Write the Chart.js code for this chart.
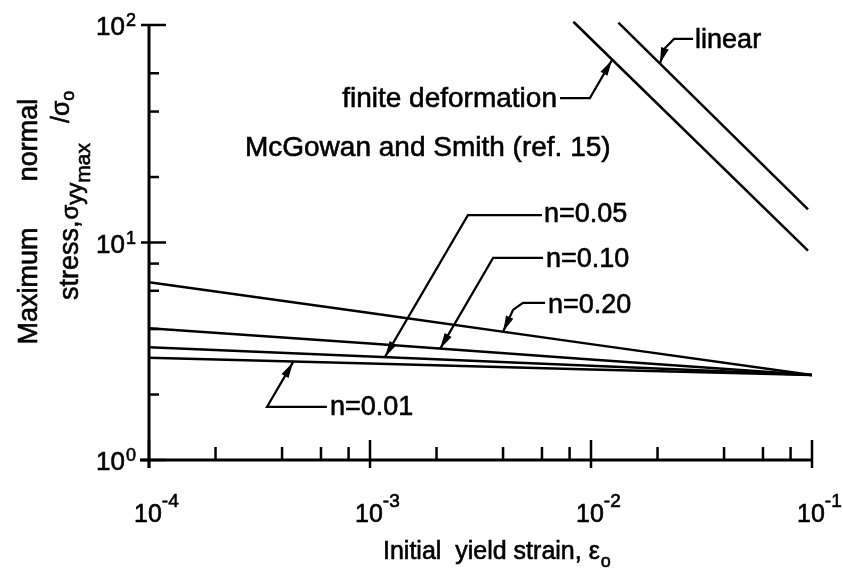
<!DOCTYPE html>
<html><head><meta charset="utf-8">
<script src="https://cdn.jsdelivr.net/npm/chart.js@4/dist/chart.umd.min.js"></script>
<style>html,body{margin:0;padding:0;background:#fff;} canvas{display:block;}</style>
</head><body>
<canvas id="c" width="843" height="575"></canvas>
<script>
// ---- data ----
const strain = [1e-4, 1e-3, 1e-2, 1e-1];
const stressN001 = [2.95, 2.78, 2.61, 2.46];
const stressN005 = [3.30, 2.99, 2.71, 2.46];
const stressN010 = [4.03, 3.43, 2.90, 2.46];
const stressN020 = [6.56, 4.74, 3.41, 2.46];
const strainFinite = [0.00832, 0.0959];
const stressFinite = [103.5, 9.17];
const strainLinear = [0.0133, 0.0959];
const stressLinear = [102.5, 14.2];

// ---- tick labels ----
const xMajorTicks = [1e-4, 1e-3, 1e-2, 1e-1];
const xTickExponents = ['-4', '-3', '-2', '-1'];
const xMinorTicks = [2e-4, 4e-4, 6e-4, 8e-4, 2e-3, 4e-3, 6e-3, 8e-3, 2e-2, 4e-2, 6e-2, 8e-2];
const yMajorTicks = [1, 10, 100];
const yTickExponents = ['0', '1', '2'];
const yMinorTicks = [2, 4, 6, 8, 20, 40, 60];

// ---- annotation anchors in data space, as [log10 strain, log10 stress] ----
const notes = [
  {label: 'n=0.05', at: [-2.213, 1.094], path: [[-2.222, 1.126], [-2.557, 1.126], [-2.932, 0.474]]},
  {label: 'n=0.10', at: [-2.204, 0.887], path: [[-2.217, 0.929], [-2.443, 0.929], [-2.683, 0.511]]},
  {label: 'n=0.20', at: [-2.195, 0.676], path: [[-2.208, 0.722], [-2.308, 0.722], [-2.353, 0.690], [-2.398, 0.590]]},
  {label: 'n=0.01', at: [-3.181, 0.207], path: [[-3.195, 0.244], [-3.466, 0.244], [-3.348, 0.450]]},
  {label: 'finite deformation', align: 'right', at: [-2.154, 1.623], path: [[-2.140, 1.664], [-2.005, 1.664], [-1.905, 1.839]]},
  {label: 'linear', at: [-1.529, 1.894], path: [[-1.538, 1.936], [-1.624, 1.936], [-1.665, 1.894], [-1.688, 1.823]]},
  {label: 'McGowan and Smith (ref. 15)', at: [-3.566, 1.398], path: null}
];

const FONT = '"Liberation Sans", Arial, sans-serif';
const pts = (xs, ys) => xs.map((x, i) => ({x: x, y: ys[i]}));
const ds = (label, xs, ys, clip) => ({
  label: label, data: pts(xs, ys), borderColor: '#000', borderWidth: 2.5,
  pointRadius: 0, tension: 0, fill: false, clip: clip
});

function seg(ctx, a, b, c, d) { ctx.beginPath(); ctx.moveTo(a, b); ctx.lineTo(c, d); ctx.stroke(); }
function txt(ctx, s, x, y) {
  ctx.fillText(s, x, y);
  ctx.save(); ctx.lineWidth = 0.6; ctx.strokeText(s, x, y); ctx.restore();
}
function arrowHead(ctx, fx, fy, tx, ty) {
  const ang = Math.atan2(ty - fy, tx - fx), L = 16, W = 4;
  ctx.beginPath();
  ctx.moveTo(tx, ty);
  ctx.lineTo(tx - L * Math.cos(ang) + W * Math.sin(ang), ty - L * Math.sin(ang) - W * Math.cos(ang));
  ctx.lineTo(tx - L * Math.cos(ang) - W * Math.sin(ang), ty - L * Math.sin(ang) + W * Math.cos(ang));
  ctx.closePath(); ctx.fill();
}
function rich(ctx, parts) {
  let u = 0;
  parts.forEach(p => {
    u += (p.gap || 0);
    ctx.font = p.f + 'px ' + FONT;
    txt(ctx, p.t, u, p.dy || 0);
    u += ctx.measureText(p.t).width;
  });
}

const decor = {
  id: 'decor',
  beforeDraw(chart) {
    const c = chart.ctx; c.save(); c.fillStyle = '#fff'; c.fillRect(0, 0, chart.width, chart.height); c.restore();
  },
  afterDatasetsDraw(chart) {
    const ctx = chart.ctx, xs = chart.scales.x, ys = chart.scales.y;
    const X = v => xs.getPixelForValue(v), Y = v => ys.getPixelForValue(v);
    const LX = l => X(Math.pow(10, l)), LY = l => Y(Math.pow(10, l));
    const x0 = X(1e-4), x1 = X(1e-1), y0 = Y(1), y1 = Y(100);
    ctx.save();
    ctx.strokeStyle = '#000'; ctx.fillStyle = '#000'; ctx.lineCap = 'butt';
    // axes
    ctx.lineWidth = 3;
    seg(ctx, x0, y1 - 1, x0, y0 + 8);
    seg(ctx, x0 - 9, y0, x1 + 1, y0);
    // y ticks
    ctx.lineWidth = 2.5;
    yMajorTicks.forEach(v => seg(ctx, x0 - 8, Y(v), x0 + 17, Y(v)));
    yMinorTicks.forEach(v => seg(ctx, x0, Y(v), x0 + 10, Y(v)));
    // x ticks
    xMajorTicks.forEach(v => seg(ctx, X(v), y0 - 20, X(v), y0 + 8));
    xMinorTicks.forEach(v => seg(ctx, X(v), y0 - 13, X(v), y0));
    // x tick labels
    ctx.textAlign = 'left'; ctx.textBaseline = 'alphabetic';
    xMajorTicks.forEach((v, i) => {
      const px = X(v) - 15;
      ctx.font = '25px ' + FONT; txt(ctx, '10', px, y0 + 62);
      const w = ctx.measureText('10').width;
      ctx.font = '19px ' + FONT; txt(ctx, xTickExponents[i].replace('-', '\u2011'), px + w, y0 + 47);
    });
    // y tick labels
    yMajorTicks.forEach((v, i) => {
      const py = Y(v);
      ctx.font = '26px ' + FONT; ctx.textAlign = 'right'; txt(ctx, '10', x0 - 24, py + 10);
      ctx.font = '18px ' + FONT; ctx.textAlign = 'left'; txt(ctx, yTickExponents[i], x0 - 23, py + 1);
    });
    // x axis title
    ctx.save();
    ctx.translate(383, y0 + 99);
    rich(ctx, [{t: 'Initial  yield strain, \u03b5', f: 25}, {t: 'o', f: 18, dy: 8, gap: 1}]);
    ctx.restore();
    // y axis title (rotated)
    ctx.save();
    ctx.translate(37, 0); ctx.rotate(-Math.PI / 2);
    ctx.font = '27px ' + FONT; ctx.textAlign = 'center';
    txt(ctx, 'Maximum', -286, 0);
    txt(ctx, 'normal', -140, 0);
    ctx.restore();
    ctx.save();
    ctx.translate(78, 300); ctx.rotate(-Math.PI / 2); ctx.textAlign = 'left';
    rich(ctx, [
      {t: 'stress,', f: 27},
      {t: '\u03c3', f: 24, gap: 1},
      {t: 'yy', f: 22, dy: 4},
      {t: 'max', f: 21, dy: 12},
      {t: '/\u03c3', f: 25, dy: -9, gap: 20},
      {t: 'o', f: 18, dy: -4}
    ]);
    ctx.restore();
    // annotations
    notes.forEach(n => {
      const fs = n.label.length > 8 ? 28 : 27;
      ctx.font = fs + 'px ' + FONT;
      ctx.textAlign = n.align || 'left';
      txt(ctx, n.label, LX(n.at[0]), LY(n.at[1]));
      if (n.path) {
        ctx.lineWidth = 2.2;
        ctx.beginPath();
        n.path.forEach((p, k) => { const px = LX(p[0]), py = LY(p[1]); k ? ctx.lineTo(px, py) : ctx.moveTo(px, py); });
        ctx.stroke();
        const a = n.path[n.path.length - 2], b = n.path[n.path.length - 1];
        arrowHead(ctx, LX(a[0]), LY(a[1]), LX(b[0]), LY(b[1]));
      }
    });
    ctx.restore();
  }
};

new Chart(document.getElementById('c'), {
  type: 'line',
  data: {
    datasets: [
      ds('n=0.01', strain, stressN001, true),
      ds('n=0.05', strain, stressN005, true),
      ds('n=0.10', strain, stressN010, true),
      ds('n=0.20', strain, stressN020, true),
      ds('finite deformation', strainFinite, stressFinite, false),
      ds('linear', strainLinear, stressLinear, false)
    ]
  },
  options: {
    responsive: false,
    animation: false,
    layout: {padding: {left: 149, right: 31, top: 25, bottom: 115}},
    plugins: {legend: {display: false}, tooltip: {enabled: false}},
    scales: {
      x: {type: 'logarithmic', min: 1e-4, max: 1e-1, display: false},
      y: {type: 'logarithmic', min: 1, max: 100, display: false}
    }
  },
  plugins: [decor]
});
</script>
</body></html>
